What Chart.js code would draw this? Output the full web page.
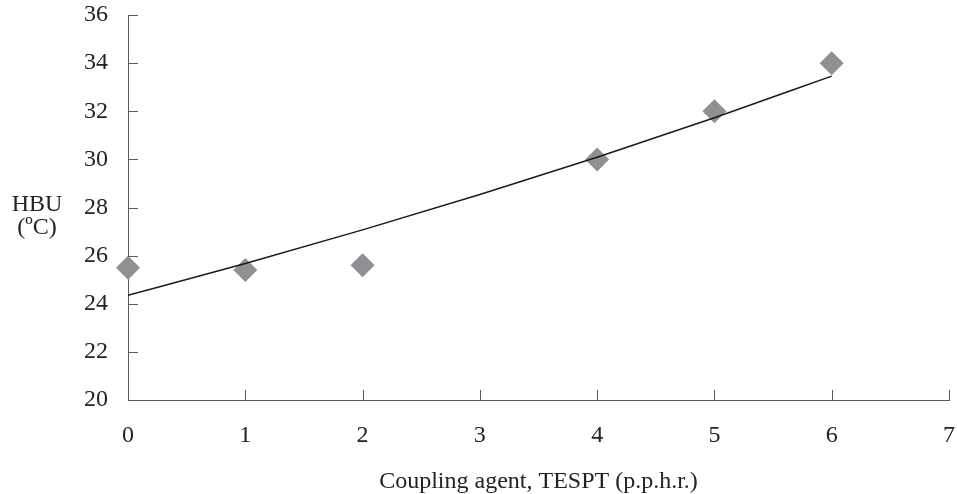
<!DOCTYPE html>
<html>
<head>
<meta charset="utf-8">
<script src="https://cdn.jsdelivr.net/npm/chart.js@4"></script>
<style>
  html, body { margin: 0; padding: 0; background: #fff; }
  #wrap { width: 957px; height: 494px; }
</style>
</head>
<body>
<div id="wrap"><canvas id="hbuChart"></canvas></div>
<script>
// values
const xValues = [0, 1, 2, 4, 5, 6];
const hbuValues = [25.5, 25.4, 25.6, 30.0, 32.0, 34.0];
const trendX = [0, 1, 2, 3, 4, 5, 6];
const trendValues = [24.35, 25.67, 27.07, 28.54, 30.09, 31.73, 33.46];
const xTicks = [0, 1, 2, 3, 4, 5, 6, 7];
const yTicks = [20, 22, 24, 26, 28, 30, 32, 34, 36];

const FONT = '"Liberation Serif", "Times New Roman", serif';
const AXIS = '#5a5a5a';

// inner tick marks + axis titles
const extras = {
  id: 'extras',
  afterDraw(chart) {
    const { ctx, chartArea, scales } = chart;
    ctx.save();
    ctx.strokeStyle = AXIS;
    ctx.lineWidth = 1;
    ctx.beginPath();
    yTicks.forEach(v => {
      const y = Math.round(scales.y.getPixelForValue(v)) + 0.5;
      ctx.moveTo(chartArea.left, y);
      ctx.lineTo(chartArea.left + 10, y);
    });
    xTicks.forEach(v => {
      if (v === 0) return;
      const x = Math.round(scales.x.getPixelForValue(v)) + 0.5;
      ctx.moveTo(x, chartArea.bottom);
      ctx.lineTo(x, chartArea.bottom - 10);
    });
    ctx.stroke();

    ctx.fillStyle = '#222';
    ctx.font = '24px ' + FONT;
    ctx.textAlign = 'center';
    ctx.textBaseline = 'middle';
    ctx.fillText('HBU', 37, 205);
    ctx.fillText('(ºC)', 37, 228);
    ctx.fillText('Coupling agent, TESPT (p.p.h.r.)', (chartArea.left + chartArea.right) / 2, 482);
    ctx.restore();
  }
};

new Chart(document.getElementById('hbuChart'), {
  type: 'scatter',
  data: {
    datasets: [
      {
        label: 'Trend',
        data: trendX.map((x, i) => ({ x, y: trendValues[i] })),
        showLine: true,
        borderColor: '#1a1a1a',
        borderWidth: 1.5,
        pointRadius: 0,
        cubicInterpolationMode: 'monotone'
      },
      {
        label: 'HBU',
        data: xValues.map((x, i) => ({ x, y: hbuValues[i] })),
        pointStyle: 'rectRot',
        pointRadius: 12,
        backgroundColor: '#909094',
        borderWidth: 0,
        clip: false
      }
    ]
  },
  options: {
    responsive: true,
    maintainAspectRatio: false,
    animation: false,
    layout: { autoPadding: false, padding: { top: 15, right: 8, left: 0, bottom: 0 } },
    plugins: { legend: { display: false }, tooltip: { enabled: false } },
    scales: {
      x: {
        type: 'linear',
        min: 0, max: 7,
        afterBuildTicks: s => { s.ticks = xTicks.map(v => ({ value: v })); },
        afterFit: s => { s.height = 94; s.paddingLeft = 0; s.paddingRight = 0; },
        grid: { drawOnChartArea: false, drawTicks: false },
        border: { color: AXIS, width: 1 },
        ticks: {
          color: '#222',
          padding: 21,
          font: { family: FONT, size: 24 },
          maxRotation: 0
        }
      },
      y: {
        min: 20, max: 36,
        afterBuildTicks: s => { s.ticks = yTicks.map(v => ({ value: v })); },
        afterFit: s => { s.width = 128; s.paddingTop = 0; s.paddingBottom = 0; },
        grid: { drawOnChartArea: false, drawTicks: false },
        border: { color: AXIS, width: 1 },
        ticks: {
          color: '#222',
          padding: 20,
          font: { family: FONT, size: 24 }
        }
      }
    }
  },
  plugins: [extras]
});
</script>
</body>
</html>
